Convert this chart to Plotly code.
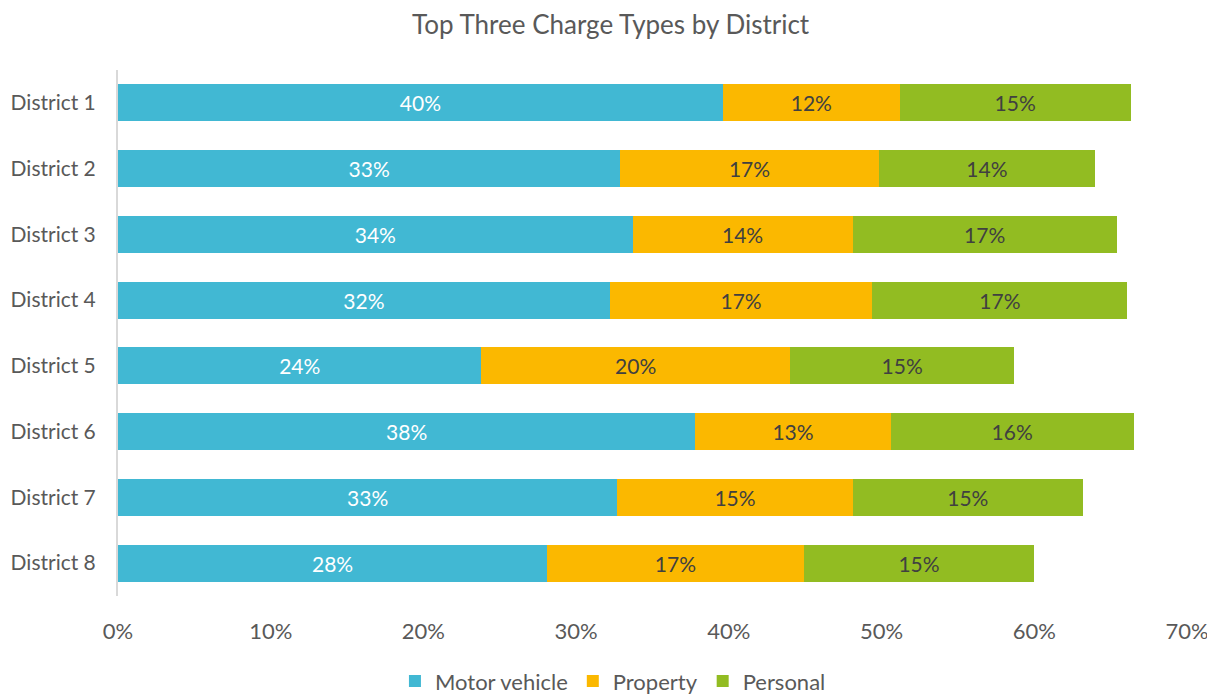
import plotly.graph_objects as go

districts = ["District 1", "District 2", "District 3", "District 4",
             "District 5", "District 6", "District 7", "District 8"]
motor_vehicle = [0.396, 0.329, 0.337, 0.322, 0.238, 0.378, 0.327, 0.281]
property_ = [0.116, 0.169, 0.144, 0.172, 0.202, 0.128, 0.154, 0.168]
personal = [0.151, 0.142, 0.173, 0.167, 0.147, 0.159, 0.151, 0.151]
x_ticks = [0, 0.1, 0.2, 0.3, 0.4, 0.5, 0.6, 0.7]
x_tick_labels = ["0%", "10%", "20%", "30%", "40%", "50%", "60%", "70%"]

FONT = "Lato, 'Open Sans', sans-serif"
GREY = "#595959"

series = [
    ("Motor vehicle", motor_vehicle, "#41B8D3", "#FFFFFF"),
    ("Property", property_, "#FBB800", "#404040"),
    ("Personal", personal, "#92BC22", "#404040"),
]

fig = go.Figure()
for name, vals, color, tcolor in series:
    fig.add_trace(go.Bar(
        name=name, y=districts, x=vals, orientation="h",
        marker=dict(color=color, line=dict(width=0)),
        texttemplate="%{x:.0%}", textposition="inside",
        insidetextanchor="middle",
        textfont=dict(family=FONT, size=21, color=tcolor),
        hoverinfo="skip",
    ))

fig.update_layout(
    barmode="stack",
    bargap=0.44,
    width=1215, height=694,
    paper_bgcolor="white", plot_bgcolor="white",
    margin=dict(l=110, r=36, t=62, b=106, autoexpand=False),
    font=dict(family=FONT, color=GREY, size=20),
    title=dict(text="Top Three Charge Types by District", x=0.496, xref="container",
               xanchor="center", y=0.976, yref="container", yanchor="middle",
               font=dict(family=FONT, size=26, color=GREY)),
    uniformtext=dict(mode="show", minsize=10),
    legend=dict(orientation="h", x=0.463, xanchor="center", y=-0.162, yanchor="middle",
                font=dict(family=FONT, size=22, color=GREY), itemwidth=30,
                traceorder="normal"),
    xaxis=dict(range=[0, 0.7], tickvals=x_ticks, ticktext=x_tick_labels,
               showgrid=False, zeroline=False, showline=False, ticks="",
               ticklabelstandoff=20, automargin=False,
               tickfont=dict(family=FONT, size=22, color=GREY)),
    yaxis=dict(categoryorder="array", categoryarray=districts, autorange="reversed",
               showgrid=False, zeroline=False, showline=True, linecolor="#D9D9D9",
               linewidth=2, ticks="", ticklabelstandoff=16, automargin=False,
               tickfont=dict(family=FONT, size=21, color=GREY)),
)

fig.write_html("out.html")
